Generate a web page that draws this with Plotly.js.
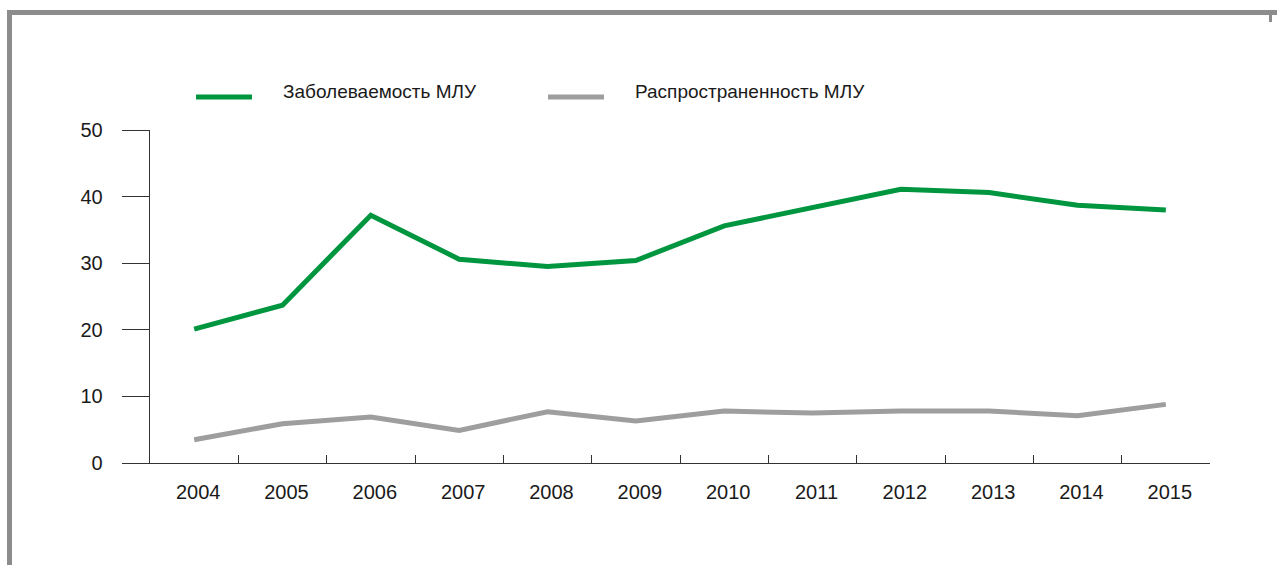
<!DOCTYPE html>
<html>
<head>
<meta charset="utf-8">
<script src="https://cdn.plot.ly/plotly-3.0.1.min.js"></script>
<style>
  html, body { margin: 0; padding: 0; background: #fff; }
  #chart { width: 1277px; height: 565px; }
</style>
</head>
<body>
<div id="chart"></div>
<script>
// ---- data ----
const years = ["2004","2005","2006","2007","2008","2009","2010","2011","2012","2013","2014","2015"];
const incidenceName = "Заболеваемость МЛУ";
const incidence = [20.1, 23.7, 37.2, 30.6, 29.5, 30.4, 35.6, 38.4, 41.1, 40.6, 38.7, 38.0];
const prevalenceName = "Распространенность МЛУ";
const prevalence = [3.5, 5.9, 6.9, 4.9, 7.7, 6.3, 7.8, 7.5, 7.8, 7.8, 7.1, 8.8];
const yTicks = [0, 10, 20, 30, 40, 50];

// ---- layout helpers ----
const W = 1277, H = 565;
const M = { l: 150, r: 67, t: 130, b: 102 };
const pw = W - M.l - M.r, ph = H - M.t - M.b;
const px = x => (x - M.l) / pw;
const py = y => (H - M.b - y) / ph;

const green = "#009640";
const grey = "#9e9e9e";
const frame = "#8c8c8c";
const font = "Liberation Sans, Arial, sans-serif";

const traces = [
  { x: years, y: incidence, name: incidenceName, type: "scatter", mode: "lines",
    line: { color: green, width: 5 }, showlegend: false, hoverinfo: "x+y" },
  { x: years, y: prevalence, name: prevalenceName, type: "scatter", mode: "lines",
    line: { color: grey, width: 5 }, showlegend: false, hoverinfo: "x+y" }
];

const legendItems = [
  { name: incidenceName, color: green, x0: 196, x1: 252, tx: 281 },
  { name: prevalenceName, color: grey, x0: 548, x1: 604, tx: 633 }
];
const legendY = 97;

const shapes = [
  // frame
  { type: "rect", xref: "paper", yref: "paper", x0: px(7), x1: px(1277), y0: py(15), y1: py(10),
    fillcolor: frame, line: { width: 0 }, layer: "above" },
  { type: "rect", xref: "paper", yref: "paper", x0: px(7), x1: px(12), y0: py(565), y1: py(10),
    fillcolor: frame, line: { width: 0 }, layer: "above" },
  { type: "rect", xref: "paper", yref: "paper", x0: px(1269), x1: px(1272), y0: py(22), y1: py(10),
    fillcolor: frame, line: { width: 0 }, layer: "above" }
];
const annotations = [];
legendItems.forEach(it => {
  shapes.push({ type: "line", xref: "paper", yref: "paper",
    x0: px(it.x0), x1: px(it.x1), y0: py(legendY), y1: py(legendY),
    line: { color: it.color, width: 5 } });
  annotations.push({ xref: "paper", yref: "paper", x: px(it.tx), y: py(legendY - 5),
    xanchor: "left", yanchor: "middle", showarrow: false, text: it.name,
    font: { family: font, size: 19, color: "#1a1a1a" } });
});

const layout = {
  width: W, height: H,
  margin: M,
  paper_bgcolor: "#fff", plot_bgcolor: "#fff",
  font: { family: font, color: "#1a1a1a" },
  showlegend: false,
  xaxis: {
    type: "category",
    range: [-0.5, years.length - 0.5],
    tickson: "boundaries",
    ticks: "inside", ticklen: 8, tickwidth: 1, tickcolor: "#333",
    showline: true, linecolor: "#333", linewidth: 1.3,
    showgrid: false, zeroline: false,
    tickfont: { family: font, size: 20, color: "#1a1a1a" },
    ticklabelstandoff: 11,
    ticklabelshift: 4,
    fixedrange: true
  },
  yaxis: {
    range: [0, 50],
    tickvals: yTicks, ticktext: yTicks.map(String),
    ticks: "outside", ticklen: 27, tickwidth: 1, tickcolor: "#333",
    showline: true, linecolor: "#333", linewidth: 1.3,
    showgrid: false, zeroline: false,
    tickfont: { family: font, size: 20, color: "#1a1a1a" },
    ticklabelstandoff: 15,
    fixedrange: true
  },
  shapes: shapes,
  annotations: annotations
};

Plotly.newPlot("chart", traces, layout, { displayModeBar: false, staticPlot: true });
</script>
</body>
</html>
